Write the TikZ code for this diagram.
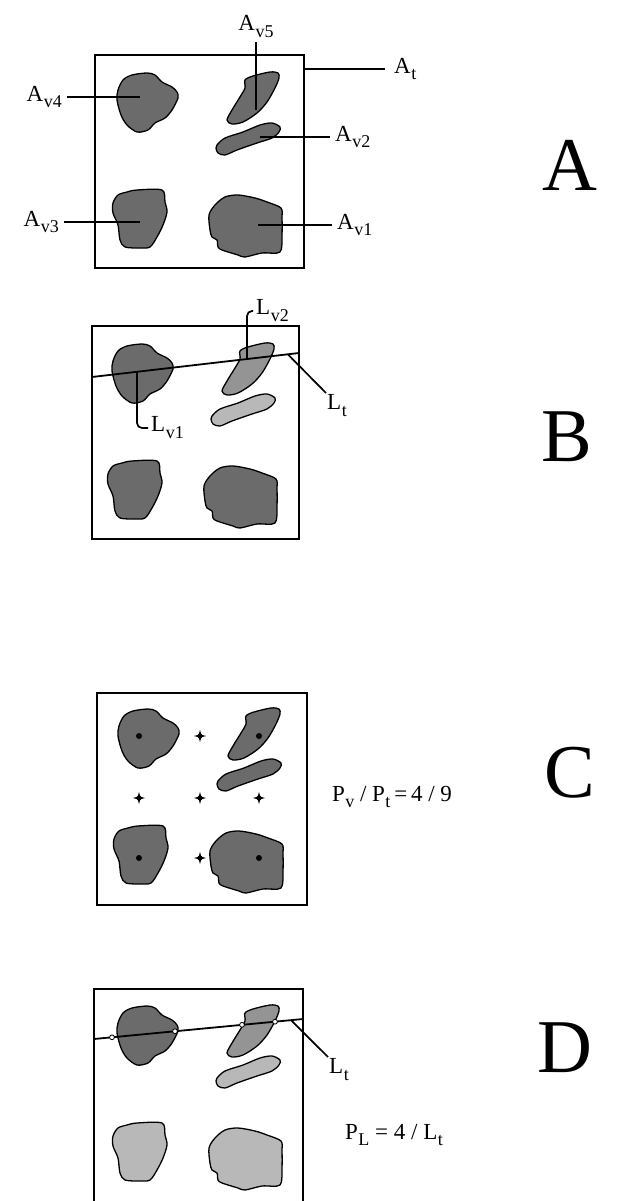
\documentclass[tikz,border=0pt]{standalone}
\usepackage{fontspec}
\setmainfont{Liberation Serif}
\usetikzlibrary{positioning}
\tikzset{
  panel/.style={draw, line width=1.2pt},
  blobDk/.style={draw, line width=1.3pt, fill=black!58},
  blobMd/.style={draw, line width=1.3pt, fill=black!42},
  blobLt/.style={draw, line width=1.3pt, fill=black!28},
  %% leader lines and transect
  leader/.style={line width=1.7pt},
  transect/.style={line width=1.8pt},
  hitmark/.style={draw, line width=0.8pt, fill=white},
  lbl/.style={font=\fontsize{23}{26}\selectfont, inner ysep=2pt, inner xsep=5pt},
  tag/.style={font=\fontsize{76}{80}\selectfont, inner sep=0pt},
}
\newcommand{\vsub}[1]{\kern0.5pt\raisebox{-0.3em}{\fontsize{18}{18}\selectfont #1}}
%% blob outlines, relative to the top left corner of a panel
\newcommand{\blobTL}{plot[smooth cycle] coordinates {(28,25) (37,20) (52,18) (60,20) (67,27) (77,32) (82,37) (83,43) (77,55) (70,63) (60,68) (53,75) (42,77) (32,70) (26,60) (22,45) (23,35)}}
\newcommand{\blobTR}{plot[smooth cycle] coordinates {(150,25) (158,21) (175,17) (183,18) (184,23) (180,33) (172,47) (162,58) (148,67) (137,69) (132,65) (137,55) (145,42) (150,33)}}
\newcommand{\blobMR}{plot[smooth cycle] coordinates {(122,90) (130,83) (148,77) (165,70) (177,68) (185,72) (184,77) (177,83) (162,88) (142,95) (130,100) (123,98) (121,93)}}
\newcommand{\blobBL}{plot[smooth cycle] coordinates {(32,137) (42,135) (67,135) (70,147) (72,157) (68,170) (62,182) (55,192) (45,193) (30,192) (25,185) (23,170) (18,158) (18,148) (23,140)}}
\newcommand{\blobBR}{plot[smooth cycle] coordinates {(130,142) (143,140) (160,143) (172,147) (186,153) (187,163) (187,180) (185,197) (167,198) (150,202) (143,200) (127,195) (123,192) (122,185) (117,182) (115,175) (114,160) (120,150)}}

\begin{document}
\begin{tikzpicture}[x=1pt, y=-1pt]
\useasboundingbox (0,0) rectangle (624,1201);

%% panel A
\draw[panel] (95,55) rectangle (304,268);
\begin{scope}[shift={(95,55)}]
  \draw[blobDk] \blobTL;
  \draw[blobDk] \blobTR;
  \draw[blobDk] \blobMR;
  \draw[blobDk] \blobBL;
  \draw[blobDk] \blobBR;
\end{scope}
\coordinate (av1e) at (258,225);
\coordinate (av2e) at (260,137);
\coordinate (av3e) at (140,222);
\coordinate (av4e) at (140,97);
\coordinate (av5e) at (256,110);
\coordinate (ate)  at (304,69);
\node[lbl, anchor=west]  (av1) at (332,225) {A\vsub{v1}};
\node[lbl, anchor=west]  (av2) at (330,137) {A\vsub{v2}};
\node[lbl, anchor=east]  (av3) at (64,222)  {A\vsub{v3}};
\node[lbl, anchor=east]  (av4) at (67,97)   {A\vsub{v4}};
\node[lbl, anchor=south, inner ysep=4pt] (av5) at (256,42) {A\vsub{v5}};
\node[lbl, anchor=west, inner xsep=9pt]  (at)  at (385,69)  {A\vsub{t}};
\draw[leader] (av1) -- (av1e);
\draw[leader] (av2) -- (av2e);
\draw[leader] (av3) -- (av3e);
\draw[leader] (av4) -- (av4e);
\draw[leader] (av5) -- (av5e);
\draw[leader] (at) -- (ate);
\node[tag] (tagA) at (570,165) {A};

%% panel B
\draw[panel] (92,326) rectangle (299,539);
\begin{scope}[shift={(90,326)}]
  \draw[blobDk] \blobTL;
  \draw[blobMd] \blobTR;
  \draw[blobLt] \blobMR;
  \draw[blobDk] \blobBL;
  \draw[blobDk] \blobBR;
\end{scope}
\coordinate (tB1) at (92,377);
\coordinate (tB2) at (299,353);
\draw[transect] (tB1) -- (tB2);
\coordinate (lv1e) at (137,372);
\coordinate (lv2e) at (247,359);
\coordinate (ltBe) at (288,354.5);
\node[lbl, anchor=west, inner xsep=3pt] (lv1) at (148,428) {L\vsub{v1}};
\node[lbl, anchor=west, inner xsep=3pt] (lv2) at (253,311) {L\vsub{v2}};
\node[lbl, anchor=north west, inner sep=1pt] (ltB) at (326,393) {L\vsub{t}};
\draw[leader, rounded corners=5pt] (lv1e) |- (lv1.west);
\draw[leader, rounded corners=5pt] (lv2e) |- (lv2.west);
\draw[leader] (ltBe) -- (ltB.north west);
\node[tag] (tagB) at (567,437) {B};

%% panel C
\draw[panel] (97,693) rectangle (307,905);
\begin{scope}[shift={(96,691)}]
  \draw[blobDk] \blobTL;
  \draw[blobDk] \blobTR;
  \draw[blobDk] \blobMR;
  \draw[blobDk] \blobBL;
  \draw[blobDk] \blobBR;
  \foreach \x/\y in {104/45, 43/107, 104/107, 163/107, 104/167}
    \fill (\x,\y) +(0,-6) -- +(1.3,-1.3) -- +(6,0) -- +(1.3,1.3)
      -- +(0,6) -- +(-1.3,1.3) -- +(-6,0) -- +(-1.3,-1.3) -- cycle
      (\x,\y) circle[radius=2.6];
  \foreach \x/\y in {43/45, 163/45, 43/167, 163/167}
    \fill (\x,\y) circle[radius=3];
\end{scope}
\node[lbl] (ratioC) at (392,797) {P\vsub{v} / P\vsub{t}\,=\,4 / 9};
\node[tag] (tagC) at (570,773) {C};

%% panel D
\draw[panel] (94,1201) -- (94,989) -- (303,989) -- (303,1201);
\begin{scope}[shift={(95,988)}]
  \draw[blobDk] \blobTL;
  \draw[blobMd] \blobTR;
  \draw[blobLt] \blobMR;
  \draw[blobLt] \blobBL;
  \draw[blobLt] \blobBR;
\end{scope}
\coordinate (tD1) at (94,1039);
\coordinate (tD2) at (303,1019);
\draw[transect] (tD1) -- (tD2);
\foreach \x/\y in {112/1037.3, 175/1031.2, 242/1024.8, 275/1021.7}
  \draw[hitmark] (\x,\y) circle[radius=2.4];
\coordinate (ltDe) at (291,1020.2);
\node[lbl, anchor=north west, inner sep=1pt] (ltD) at (328,1057) {L\vsub{t}};
\draw[leader] (ltDe) -- (ltD.north west);
\node[lbl] (ratioD) at (394,1135) {P\vsub{L} = 4 / L\vsub{t}};
\node[tag] (tagD) at (565,1048) {D};
\end{tikzpicture}
\end{document}
